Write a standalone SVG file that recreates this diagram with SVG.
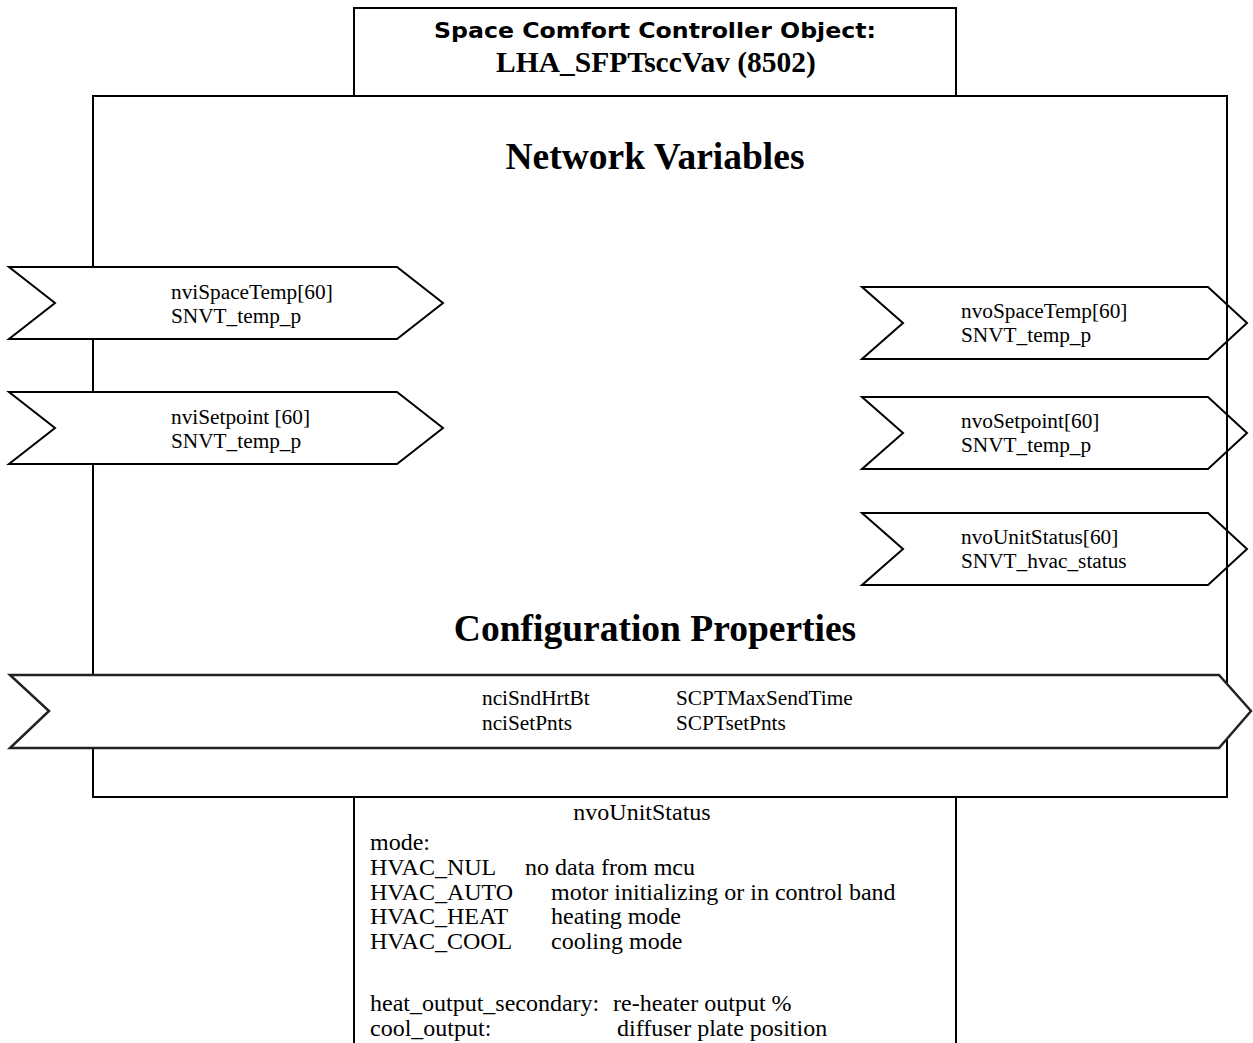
<svg xmlns="http://www.w3.org/2000/svg" width="1253" height="1043" viewBox="0 0 1253 1043">
<style>
.box{fill:#fff;stroke:#000;stroke-width:2}
.arr{fill:#fff;stroke:#000;stroke-width:2;stroke-linejoin:miter}
.cfg{fill:#fff;stroke:#222;stroke-width:2.5}
.t{font-family:"Liberation Serif","Times New Roman",serif;font-size:21.3px;fill:#000}
.b{font-family:"Liberation Serif","Times New Roman",serif;font-size:24px;fill:#000}
.h{font-family:"Liberation Serif","Times New Roman",serif;font-size:37.5px;font-weight:bold;fill:#000}
</style>
<rect width="1253" height="1043" fill="#fff"/>
<g id="title-box">
<rect class="box" x="354" y="8" width="602" height="88"/>
<text x="655" y="38" text-anchor="middle" font-family="'DejaVu Sans',Verdana,sans-serif" font-weight="bold" font-size="22" textLength="442" lengthAdjust="spacingAndGlyphs">Space Comfort Controller Object:</text>
<text x="656" y="72" text-anchor="middle" font-family="'Liberation Serif','Times New Roman',serif" font-weight="bold" font-size="29.5">LHA_SFPTsccVav (8502)</text>
</g>
<g id="status-box">
<path class="box" d="M354 797 V1045 M956 797 V1045" fill="none"/>
<text class="b" x="642" y="820" text-anchor="middle">nvoUnitStatus</text>
<text class="b" x="370" y="850">mode:</text>
<text class="b" x="370" y="875">HVAC_NUL</text><text class="b" x="525" y="875">no data from mcu</text>
<text class="b" x="370" y="900">HVAC_AUTO</text><text class="b" x="551" y="900">motor initializing or in control band</text>
<text class="b" x="370" y="924">HVAC_HEAT</text><text class="b" x="551" y="924">heating mode</text>
<text class="b" x="370" y="949">HVAC_COOL</text><text class="b" x="551" y="949">cooling mode</text>
<text class="b" x="370" y="1011">heat_output_secondary:</text><text class="b" x="613" y="1011">re-heater output %</text>
<text class="b" x="370" y="1036">cool_output:</text><text class="b" x="617" y="1036">diffuser plate position</text>
</g>
<g id="object-box">
<rect class="box" x="93" y="96" width="1134" height="701"/>
<text class="h" x="655" y="169" text-anchor="middle">Network Variables</text>
<text class="h" x="655" y="641" text-anchor="middle">Configuration Properties</text>
</g>
<g id="connectors">
<g id="nvoSpaceTemp">
<polygon class="arr" points="862,287 1208,287 1247,323 1208,359 862,359 903,323"/>
<text class="t" x="961" y="318">nvoSpaceTemp[60]</text>
<text class="t" x="961" y="342">SNVT_temp_p</text>
</g>
<g id="nvoSetpoint">
<polygon class="arr" points="862,397 1208,397 1247,433 1208,469 862,469 903,433"/>
<text class="t" x="961" y="428">nvoSetpoint[60]</text>
<text class="t" x="961" y="452">SNVT_temp_p</text>
</g>
<g id="nvoUnitStatus">
<polygon class="arr" points="862,513 1208,513 1247,549 1208,585 862,585 903,549"/>
<text class="t" x="961" y="544">nvoUnitStatus[60]</text>
<text class="t" x="961" y="568">SNVT_hvac_status</text>
</g>
<line x1="1227" y1="96" x2="1227" y2="675" stroke="#000" stroke-width="2"/>
<g id="nviSpaceTemp">
<polygon class="arr" points="9,267 397,267 443,303 397,339 9,339 55,303"/>
<text class="t" x="171" y="299">nviSpaceTemp[60]</text>
<text class="t" x="171" y="323">SNVT_temp_p</text>
</g>
<g id="nviSetpoint">
<polygon class="arr" points="9,392 397,392 443,428 397,464 9,464 55,428"/>
<text class="t" x="171" y="424">nviSetpoint [60]</text>
<text class="t" x="171" y="448">SNVT_temp_p</text>
</g>
<g id="config">
<polygon class="cfg" points="10,675 1219,675 1251,711 1219,748 10,748 49,711"/>
<text class="t" x="482" y="705">nciSndHrtBt</text>
<text class="t" x="676" y="705">SCPTMaxSendTime</text>
<text class="t" x="482" y="730">nciSetPnts</text>
<text class="t" x="676" y="730">SCPTsetPnts</text>
</g>
</g>
</svg>
